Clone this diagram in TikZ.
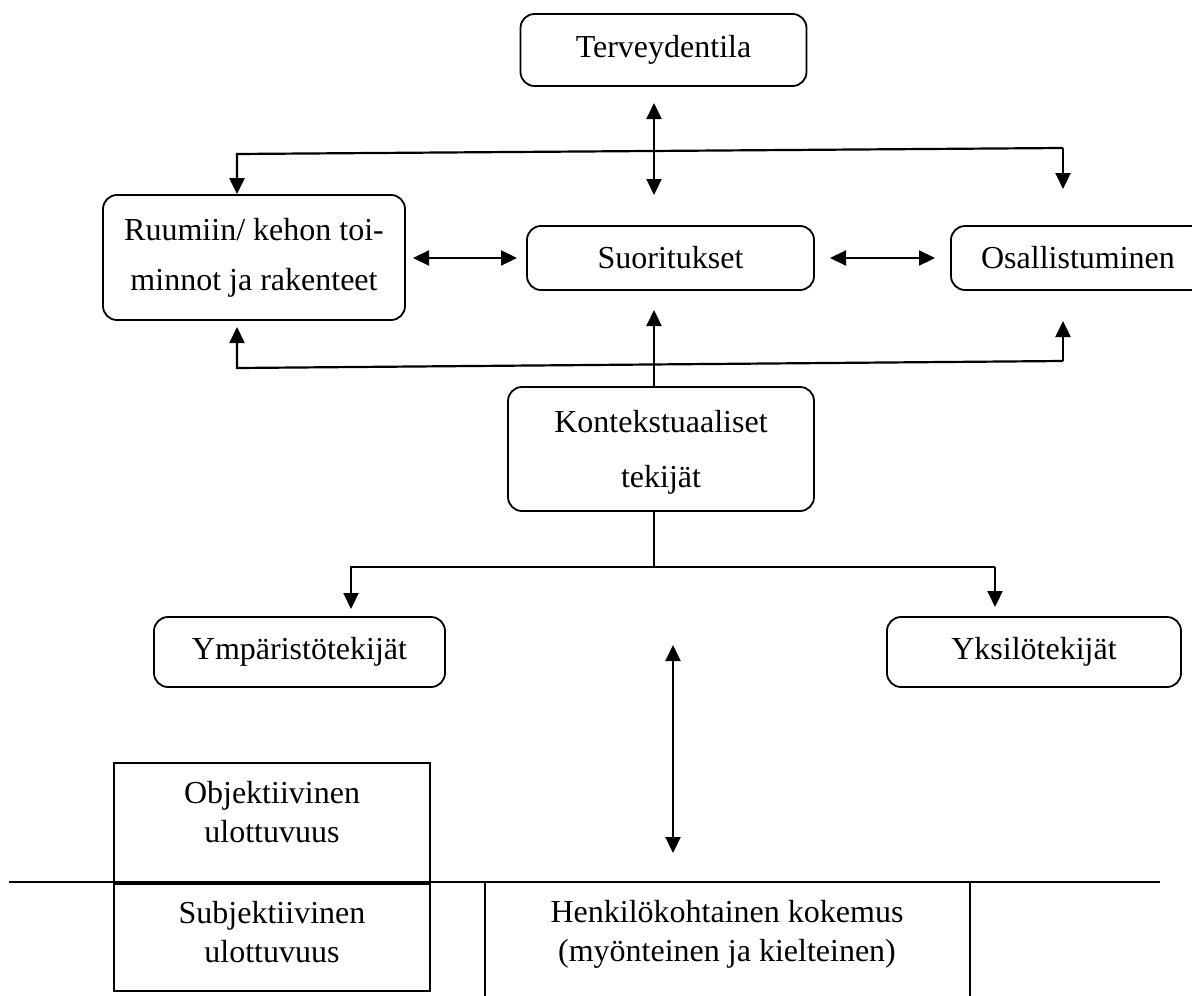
\documentclass[tikz,border=0pt]{standalone}
\usepackage{fontspec}
\setmainfont{Liberation Serif}
\usetikzlibrary{arrows.meta}
\begin{document}
\begin{tikzpicture}[x=0.5pt,y=-0.5pt,
  every node/.style={font=\fontsize{16}{25}\selectfont},
  rbox/.style={draw, line width=0.9pt, rounded corners=7pt, align=center, inner sep=0pt},
  sbox/.style={draw, line width=1pt, align=center, inner sep=0pt},
  txt/.style={align=center, inner sep=0pt, font=\fontsize{16}{19.5}\selectfont},
  conn/.style={line width=1.1pt},
  thin conn/.style={line width=0.6pt},
  tip/.style={-{Triangle[length=8pt,width=7.5pt]}},
  dtip/.style={{Triangle[length=8pt,width=7.5pt]}-{Triangle[length=8pt,width=7.5pt]}}
]
\useasboundingbox (0,0) rectangle (1192,995);

% boxes
\node[rbox, minimum width=143pt, minimum height=36pt] (terv) at (663.5,50) {Terveydentila};
\node[rbox, minimum width=151pt, minimum height=62.5pt] (ruum) at (254,257.5) {Ruumiin/ kehon toi-\\minnot ja rakenteet};
\node[rbox, minimum width=143.5pt, minimum height=32pt] (suor) at (670.5,258) {Suoritukset};
\node[rbox, minimum width=127pt, minimum height=32pt] (osal) at (1078,258) {Osallistuminen};
\node[rbox, minimum width=153pt, minimum height=62pt] (kont) at (661,449) {};
\node[align=center, inner sep=0pt, font=\fontsize{16}{27.5}\selectfont] (kontt) at (661,452) {Kontekstuaaliset\\tekijät};
\node[rbox, minimum width=145.5pt, minimum height=35pt] (ymp) at (299.5,652) {Ympäristötekijät};
\node[rbox, minimum width=147pt, minimum height=35pt] (yks) at (1034,652) {Yksilötekijät};
\node[sbox, minimum width=158pt, minimum height=59.5pt] (obj) at (272,822.5) {};
\node[txt] (objt) at (272,812) {Objektiivinen\\ulottuvuus};
\node[sbox, minimum width=158pt, minimum height=54.5pt] (subj) at (272,936.5) {};
\node[txt] (subjt) at (272,932) {Subjektiivinen\\ulottuvuus};
\node[txt] (henk) at (727,934) {Henkilökohtainen kokemus\\(myönteinen ja kielteinen)};

% coordinates for connector ends
\coordinate (tvA) at (654,103);
\coordinate (tvB) at (654,195);
\coordinate (tl) at (237,154);
\coordinate (tr) at (1063,148);
\coordinate (trT) at (1063,189);
\coordinate (lhA) at (413,258);
\coordinate (lhB) at (517,258);
\coordinate (rhA) at (830,258);
\coordinate (rhB) at (935,258);
\coordinate (bl) at (237,368);
\coordinate (blT) at (237,327);
\coordinate (br) at (1063,361);
\coordinate (brT) at (1063,321);
\coordinate (sB) at (654,310);
\coordinate (kJ) at (654,567);
\coordinate (yl) at (351,567);
\coordinate (ylT) at (351,609);
\coordinate (yr) at (995,567);
\coordinate (yrT) at (995,607);
\coordinate (vA) at (673,645);
\coordinate (vB) at (673,853);
\coordinate (hL) at (9,882);
\coordinate (hR) at (1160,882);
\coordinate (c1t) at (485,882);
\coordinate (c1b) at (485,1000);
\coordinate (c2t) at (970,882);
\coordinate (c2b) at (970,1000);

% connectors
\draw[conn, dtip] (tvA) -- (tvB);
\draw[conn, tip] (tr) -- (tl) -- (ruum.north -| tl);
\draw[conn, tip] (tr) -- (trT);
\draw[conn, dtip] (lhA) -- (lhB);
\draw[conn, dtip] (rhA) -- (rhB);
\draw[conn, tip] (br) -- (bl) -- (blT);
\draw[conn, tip] (br) -- (brT);
\draw[conn, tip] (kont.north -| sB) -- (sB);
\draw[thin conn] (kont.south -| kJ) -- (kJ);
\draw[conn, tip] (yr) -- (yl) -- (ylT);
\draw[conn, tip] (yr) -- (yrT);
\draw[conn, dtip] (vA) -- (vB);
\draw[conn] (hL) -- (hR);
\draw[line width=1.8pt] (obj.south west) -- (obj.south east);
\draw[thin conn] (c1t) -- (c1b);
\draw[thin conn] (c2t) -- (c2b);
\end{tikzpicture}
\end{document}
